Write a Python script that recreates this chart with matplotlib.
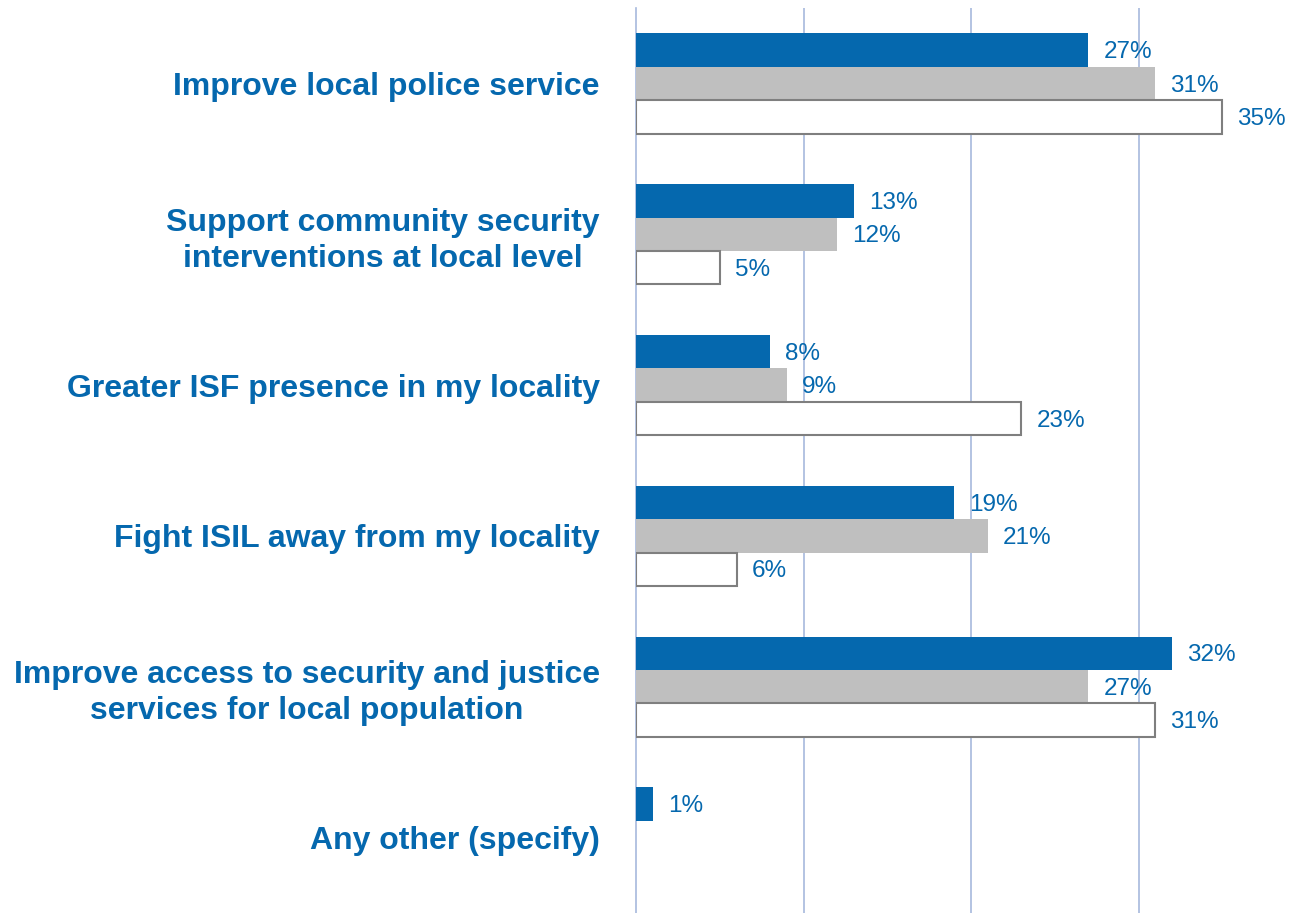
import matplotlib.pyplot as plt
import numpy as np

plt.rcParams['font.family'] = ['Liberation Sans', 'DejaVu Sans']

categories = [
    "Improve local police service",
    "Support community security\ninterventions at local level",
    "Greater ISF presence in my locality",
    "Fight ISIL away from my locality",
    "Improve access to security and justice\nservices for local population",
    "Any other (specify)",
]
series_a = [27, 13, 8, 19, 32, 1]
series_b = [31, 12, 9, 21, 27, None]
series_c = [35, 5, 23, 6, 31, None]

BLUE = "#0568AE"
GRAY = "#BFBFBF"
EDGE = "#7F7F7F"
GRID = "#A7B9DD"

fig = plt.figure(figsize=(12.89, 9.13), dpi=100)
ax = fig.add_axes([636 / 1289, 0, 1 - 636 / 1289, 1 - 8 / 913])

h = 0.222
y = np.arange(len(categories))

def draw(vals, offset, **kw):
    for yi, v in zip(y, vals):
        if v is None:
            continue
        ax.barh(yi + offset, v, height=h, zorder=3, **kw)
        ax.annotate(f"{v}%", (v, yi + offset), xytext=(11, -1.5),
                    textcoords="offset points", va="center", ha="left",
                    fontsize=17.5, color=BLUE)

draw(series_a, -h, color=BLUE)
draw(series_b, 0, color=GRAY)
draw(series_c, h, facecolor="white", edgecolor=EDGE, linewidth=1.5)

ax.set_xlim(0, (1289 - 636) / 16.75)
ax.set_ylim(5.5, -0.5)
ax.set_xticks([10, 20, 30])
ax.grid(axis="x", color=GRID, linewidth=1.2, zorder=0)
for s in ["top", "right", "bottom"]:
    ax.spines[s].set_visible(False)
ax.spines["left"].set_color(GRID)
ax.spines["left"].set_linewidth(1.2)
ax.tick_params(axis="x", length=0, labelbottom=False)
ax.tick_params(axis="y", length=0, pad=26)
ax.set_yticks(y)
ax.set_yticklabels(categories, fontsize=23, fontweight="bold", color=BLUE)
for t in ax.get_yticklabels():
    t.set_multialignment("center")
    t.set_linespacing(1.25)

fig.savefig("out.png", dpi=100)
